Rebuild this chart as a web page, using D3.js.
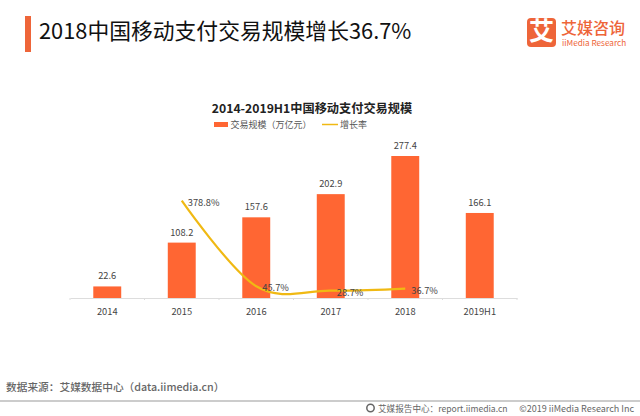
<!DOCTYPE html>
<html>
<head>
<meta charset="utf-8">
<script src="https://cdn.jsdelivr.net/npm/d3@7"></script>
<style>
  html, body { margin: 0; padding: 0; background: #fff; }
  text { font-family: "Noto Sans CJK SC", "Noto Sans", sans-serif; }
</style>
</head>
<body>
<svg id="chart" width="640" height="416"></svg>
<script>
const categories = ["2014", "2015", "2016", "2017", "2018", "2019H1"];
const volume = [22.6, 108.2, 157.6, 202.9, 277.4, 166.1];
const growthYears = ["2015", "2016", "2017", "2018"];
const growth = [378.8, 45.7, 28.7, 36.7];

const orange = "#ff6633";
const yellow = "#f0b913";
const labelColor = "#444";

const svg = d3.select("#chart");

// page header
svg.append("rect").attr("x", 25).attr("y", 16).attr("width", 6).attr("height", 36).attr("fill", "#ee6539");
svg.append("text").attr("x", 39).attr("y", 33).attr("dominant-baseline", "middle")
  .attr("font-size", 21.8).attr("fill", "#111").text("2018中国移动支付交易规模增长36.7%");

// logo
svg.append("rect").attr("x", 527).attr("y", 18).attr("width", 29).attr("height", 29).attr("rx", 4).attr("fill", "#ee6539");
svg.append("text").attr("x", 541.5).attr("y", 33).attr("text-anchor", "middle").attr("dominant-baseline", "middle")
  .attr("font-size", 25).attr("font-weight", 700).attr("fill", "#fff").text("艾");
svg.append("text").attr("x", 561).attr("y", 30).attr("dominant-baseline", "middle")
  .attr("font-size", 16).attr("font-weight", 500).attr("fill", "#ee6539").text("艾媒咨询");
svg.append("text").attr("x", 562).attr("y", 44).attr("dominant-baseline", "middle")
  .attr("font-size", 8.2).attr("fill", "#ee6539").text("iiMedia Research");

// chart title and legend
svg.append("text").attr("x", 312).attr("y", 110).attr("text-anchor", "middle").attr("dominant-baseline", "middle")
  .attr("font-size", 12.2).attr("font-weight", 700).attr("fill", "#222").text("2014-2019H1中国移动支付交易规模");
svg.append("rect").attr("x", 214).attr("y", 122).attr("width", 14).attr("height", 5).attr("fill", orange);
svg.append("text").attr("x", 230.5).attr("y", 125.5).attr("dominant-baseline", "middle")
  .attr("font-size", 9).attr("fill", "#555").text("交易规模（万亿元）");
svg.append("line").attr("x1", 322).attr("x2", 338).attr("y1", 124.5).attr("y2", 124.5)
  .attr("stroke", yellow).attr("stroke-width", 1.5);
svg.append("text").attr("x", 340).attr("y", 125.5).attr("dominant-baseline", "middle")
  .attr("font-size", 9).attr("fill", "#555").text("增长率");

// scales
const x = d3.scaleBand().domain(categories).range([70, 517]).paddingInner(0.625).paddingOuter(0.3125);
const y = d3.scaleLinear().domain([0, 277.4]).range([298, 156]);
const yGrowth = d3.scaleLinear().domain([0, 378.8]).range([298, 200.7]);
const cx = d => x(d) + x.bandwidth() / 2;

// bars
svg.append("g").selectAll("rect").data(categories).enter().append("rect")
  .attr("x", d => x(d))
  .attr("y", (d, i) => y(volume[i]))
  .attr("width", x.bandwidth())
  .attr("height", (d, i) => y(0) - y(volume[i]))
  .attr("fill", orange);

// x axis
const step = x.step();
const axis = svg.append("g").attr("transform", "translate(0,298)")
  .call(d3.axisBottom(x).tickSize(0).tickPadding(10));
axis.select(".domain").attr("stroke", "#ddd");
axis.selectAll("text").attr("font-size", 9.3).attr("fill", labelColor)
  .style("font-family", '"Noto Sans CJK SC", "Noto Sans", sans-serif');
axis.selectAll(".sep").data(d3.range(categories.length + 1)).enter().append("line")
  .attr("class", "sep")
  .attr("x1", i => 70 + i * step).attr("x2", i => 70 + i * step)
  .attr("y1", 0).attr("y2", 2).attr("stroke", "#ddd");

// bar labels
svg.append("g").selectAll("text").data(categories).enter().append("text")
  .attr("x", cx)
  .attr("y", (d, i) => y(volume[i]) - 9.5)
  .attr("text-anchor", "middle").attr("dominant-baseline", "middle")
  .attr("font-size", 9.3).attr("fill", labelColor)
  .text((d, i) => volume[i].toFixed(1));

// growth line
const line = d3.line()
  .x(d => cx(d))
  .y((d, i) => yGrowth(growth[i]))
  .curve(d3.curveCardinal.tension(0));
svg.append("path").attr("d", line(growthYears)).attr("fill", "none")
  .attr("stroke", yellow).attr("stroke-width", 2.2);

// growth labels
svg.append("g").selectAll("text").data(growthYears).enter().append("text")
  .attr("x", d => cx(d) + 6)
  .attr("y", (d, i) => yGrowth(growth[i]) + 2.5)
  .attr("dominant-baseline", "middle")
  .attr("font-size", 9.3).attr("fill", labelColor)
  .text((d, i) => growth[i] + "%");

// footer
svg.append("text").attr("x", 6).attr("y", 388).attr("dominant-baseline", "middle")
  .attr("font-size", 10.7).attr("font-weight", 500).attr("fill", "#666").text("数据来源：艾媒数据中心（data.iimedia.cn）");
svg.append("line").attr("x1", 0).attr("x2", 640).attr("y1", 401).attr("y2", 401)
  .attr("stroke", "#999").attr("stroke-width", 1);
svg.append("circle").attr("cx", 370.5).attr("cy", 408).attr("r", 3.7)
  .attr("fill", "none").attr("stroke", "#666").attr("stroke-width", 1.5);
svg.append("text").attr("x", 378).attr("y", 409.5).attr("dominant-baseline", "middle")
  .attr("font-size", 8.6).attr("fill", "#666").text("艾媒报告中心：report.iimedia.cn");
svg.append("text").attr("x", 634).attr("y", 409.5).attr("text-anchor", "end").attr("dominant-baseline", "middle")
  .attr("font-size", 9).attr("fill", "#666").text("©2019  iiMedia Research  Inc");
</script>
</body>
</html>
